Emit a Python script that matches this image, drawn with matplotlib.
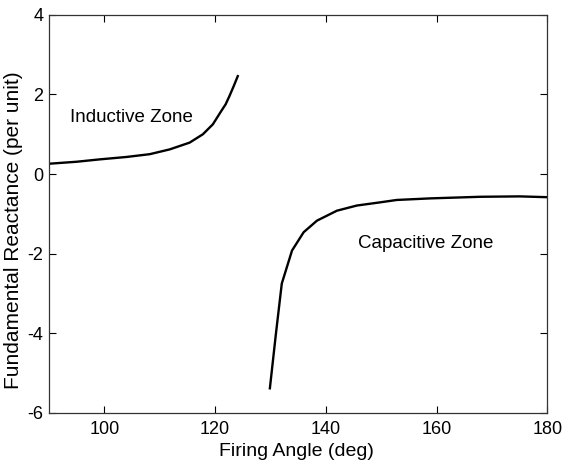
import matplotlib
matplotlib.use("Agg")
import matplotlib.pyplot as plt

plt.rcParams['font.family'] = ['Liberation Sans', 'DejaVu Sans']
plt.rcParams['axes.unicode_minus'] = False

# Inductive branch (below resonance)
ind_angle = [90.0, 95.0, 99.2, 104.0, 108.2, 111.8, 115.4, 117.8, 119.6, 121.1, 121.9, 122.6, 123.4, 124.1]
ind_react = [0.26, 0.31, 0.37, 0.43, 0.50, 0.62, 0.79, 1.00, 1.25, 1.58, 1.75, 1.96, 2.22, 2.46]

# Capacitive branch (above resonance)
cap_angle = [129.9, 131.0, 132.05, 133.9, 136.0, 138.4, 142.0, 145.6, 149.8, 152.8, 158.9, 167.9, 175.0, 180.0]
cap_react = [-5.38, -4.0, -2.75, -1.92, -1.46, -1.17, -0.92, -0.79, -0.71, -0.65, -0.61, -0.57, -0.56, -0.58]

xticks = [100, 120, 140, 160, 180]
yticks = [-6, -4, -2, 0, 2, 4]

fig = plt.figure(figsize=(5.63, 4.63), dpi=100)
ax = fig.add_axes([0.087, 0.108, 0.885, 0.86])

ax.plot(ind_angle, ind_react, color='black', linewidth=1.7)
ax.plot(cap_angle, cap_react, color='black', linewidth=1.7)

ax.text(93.8, 1.43, 'Inductive Zone', fontsize=13.5, va='center', ha='left')
ax.text(145.8, -1.74, 'Capacitive Zone', fontsize=13.5, va='center', ha='left')

ax.set_xlim(90, 180)
ax.set_ylim(-6, 4)
ax.set_xticks(xticks)
ax.set_yticks(yticks)
ax.tick_params(direction='in', top=True, right=True, length=5, width=0.8,
               labelsize=13)
ax.tick_params(axis='x', pad=6)
ax.tick_params(axis='y', pad=4)
for s in ax.spines.values():
    s.set_linewidth(0.9)
    s.set_color('#333333')

ax.set_xlabel('Firing Angle (deg)', fontsize=14)
ax.xaxis.set_label_coords(0.496, -0.075)
ax.set_ylabel('Fundamental Reactance (per unit)', fontsize=15)
ax.yaxis.set_label_coords(-0.052, 0.46)

fig.savefig('out.png', dpi=100)
